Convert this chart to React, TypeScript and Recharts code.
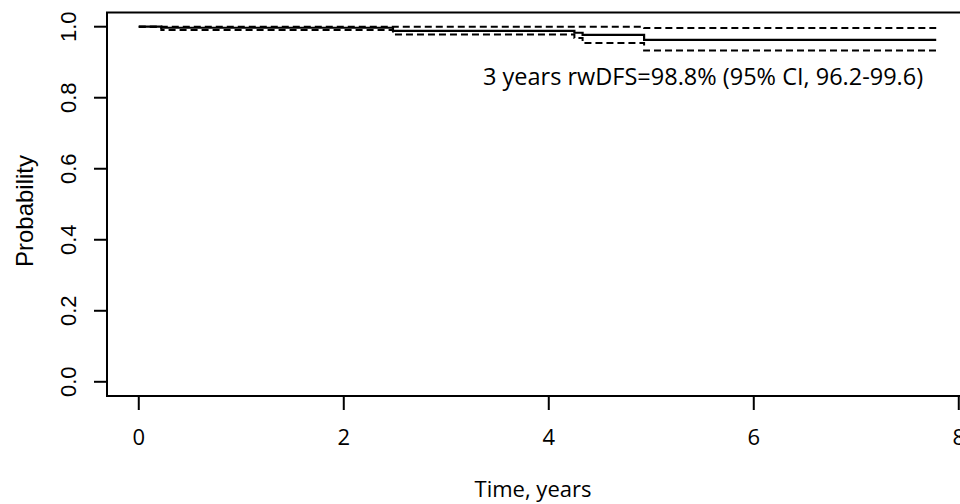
import { LineChart, Line, XAxis, YAxis, ReferenceArea, Customized } from "recharts";

// Kaplan-Meier estimate with 95% confidence band
const times = [0, 0.22, 2.48, 4.25, 4.33, 4.93, 7.78];
const survival = [1, 0.997, 0.988, 0.983, 0.977, 0.963, 0.963];
const upperCI = [1, 1, 1, 1, 1, 0.996, 0.996];
const lowerCI = [1, 0.991, 0.978, 0.968, 0.954, 0.933, 0.933];

const xTicks = [0, 2, 4, 6, 8];
const yTicks = [0, 0.2, 0.4, 0.6, 0.8, 1.0];
const annotation = "3 years rwDFS=98.8% (95% CI, 96.2-99.6)";

const data = times.map((t, i) => ({
  time: t,
  surv: survival[i],
  upper: upperCI[i],
  lower: lowerCI[i],
}));

const calibriLike = "'Open Sans', Lato, sans-serif";
const arialLike = "'Liberation Sans', Arial, sans-serif";

function YTick(props: any) {
  const { y, payload } = props;
  return (
    <text
      transform={`translate(76,${y}) rotate(-90)`}
      textAnchor='middle'
      fontSize={22}
      fontFamily={arialLike}
      fill='#000'
    >
      {payload.value.toFixed(1)}
    </text>
  );
}

function Annotations() {
  return (
    <g>
      <text x={483} y={85} fontSize={23.5} fontFamily={calibriLike} fill='#000'>
        {annotation}
      </text>
      <text
        transform='translate(33,211) rotate(-90)'
        textAnchor='middle'
        fontSize={24}
        fontFamily={arialLike}
        fill='#000'
      >
        Probability
      </text>
      <text
        x={533}
        y={497}
        textAnchor='middle'
        fontSize={22}
        fontFamily={calibriLike}
        fill='#000'
      >
        Time, years
      </text>
    </g>
  );
}

export default function App() {
  return (
    <div
      style={{
        position: "absolute",
        left: 0,
        top: 0,
        width: 960,
        height: 504,
        overflow: "hidden",
        background: "#fff",
      }}
    >
      <LineChart
        width={980}
        height={504}
        data={data}
        margin={{ top: 12.5, right: 12, bottom: 0, left: 0 }}
      >
        <XAxis
          dataKey='time'
          type='number'
          domain={[-0.31, 8.09]}
          ticks={xTicks}
          allowDataOverflow
          axisLine={false}
          height={108}
          tickSize={14}
          tickMargin={19}
          tickLine={{ stroke: "#000", strokeWidth: 2 }}
          tick={{ fill: "#000", fontSize: 22, fontFamily: calibriLike }}
        />
        <YAxis
          type='number'
          domain={[-0.04, 1.04]}
          ticks={yTicks}
          allowDataOverflow
          axisLine={false}
          tickSize={13}
          width={107}
          tickLine={{ stroke: "#000", strokeWidth: 2 }}
          tick={<YTick />}
        />
        <ReferenceArea
          x1={-0.31}
          x2={8.09}
          y1={-0.04}
          y2={1.04}
          fill='none'
          stroke='#000'
          strokeWidth={2}
          ifOverflow='visible'
        />
        <Line
          type='stepAfter'
          dataKey='upper'
          stroke='#000'
          strokeWidth={2}
          strokeDasharray='7 4'
          dot={false}
          isAnimationActive={false}
        />
        <Line
          type='stepAfter'
          dataKey='lower'
          stroke='#000'
          strokeWidth={2}
          strokeDasharray='7 4'
          dot={false}
          isAnimationActive={false}
        />
        <Line
          type='stepAfter'
          dataKey='surv'
          stroke='#000'
          strokeWidth={2.2}
          dot={false}
          isAnimationActive={false}
        />
        <Customized component={Annotations} />
      </LineChart>
    </div>
  );
}
